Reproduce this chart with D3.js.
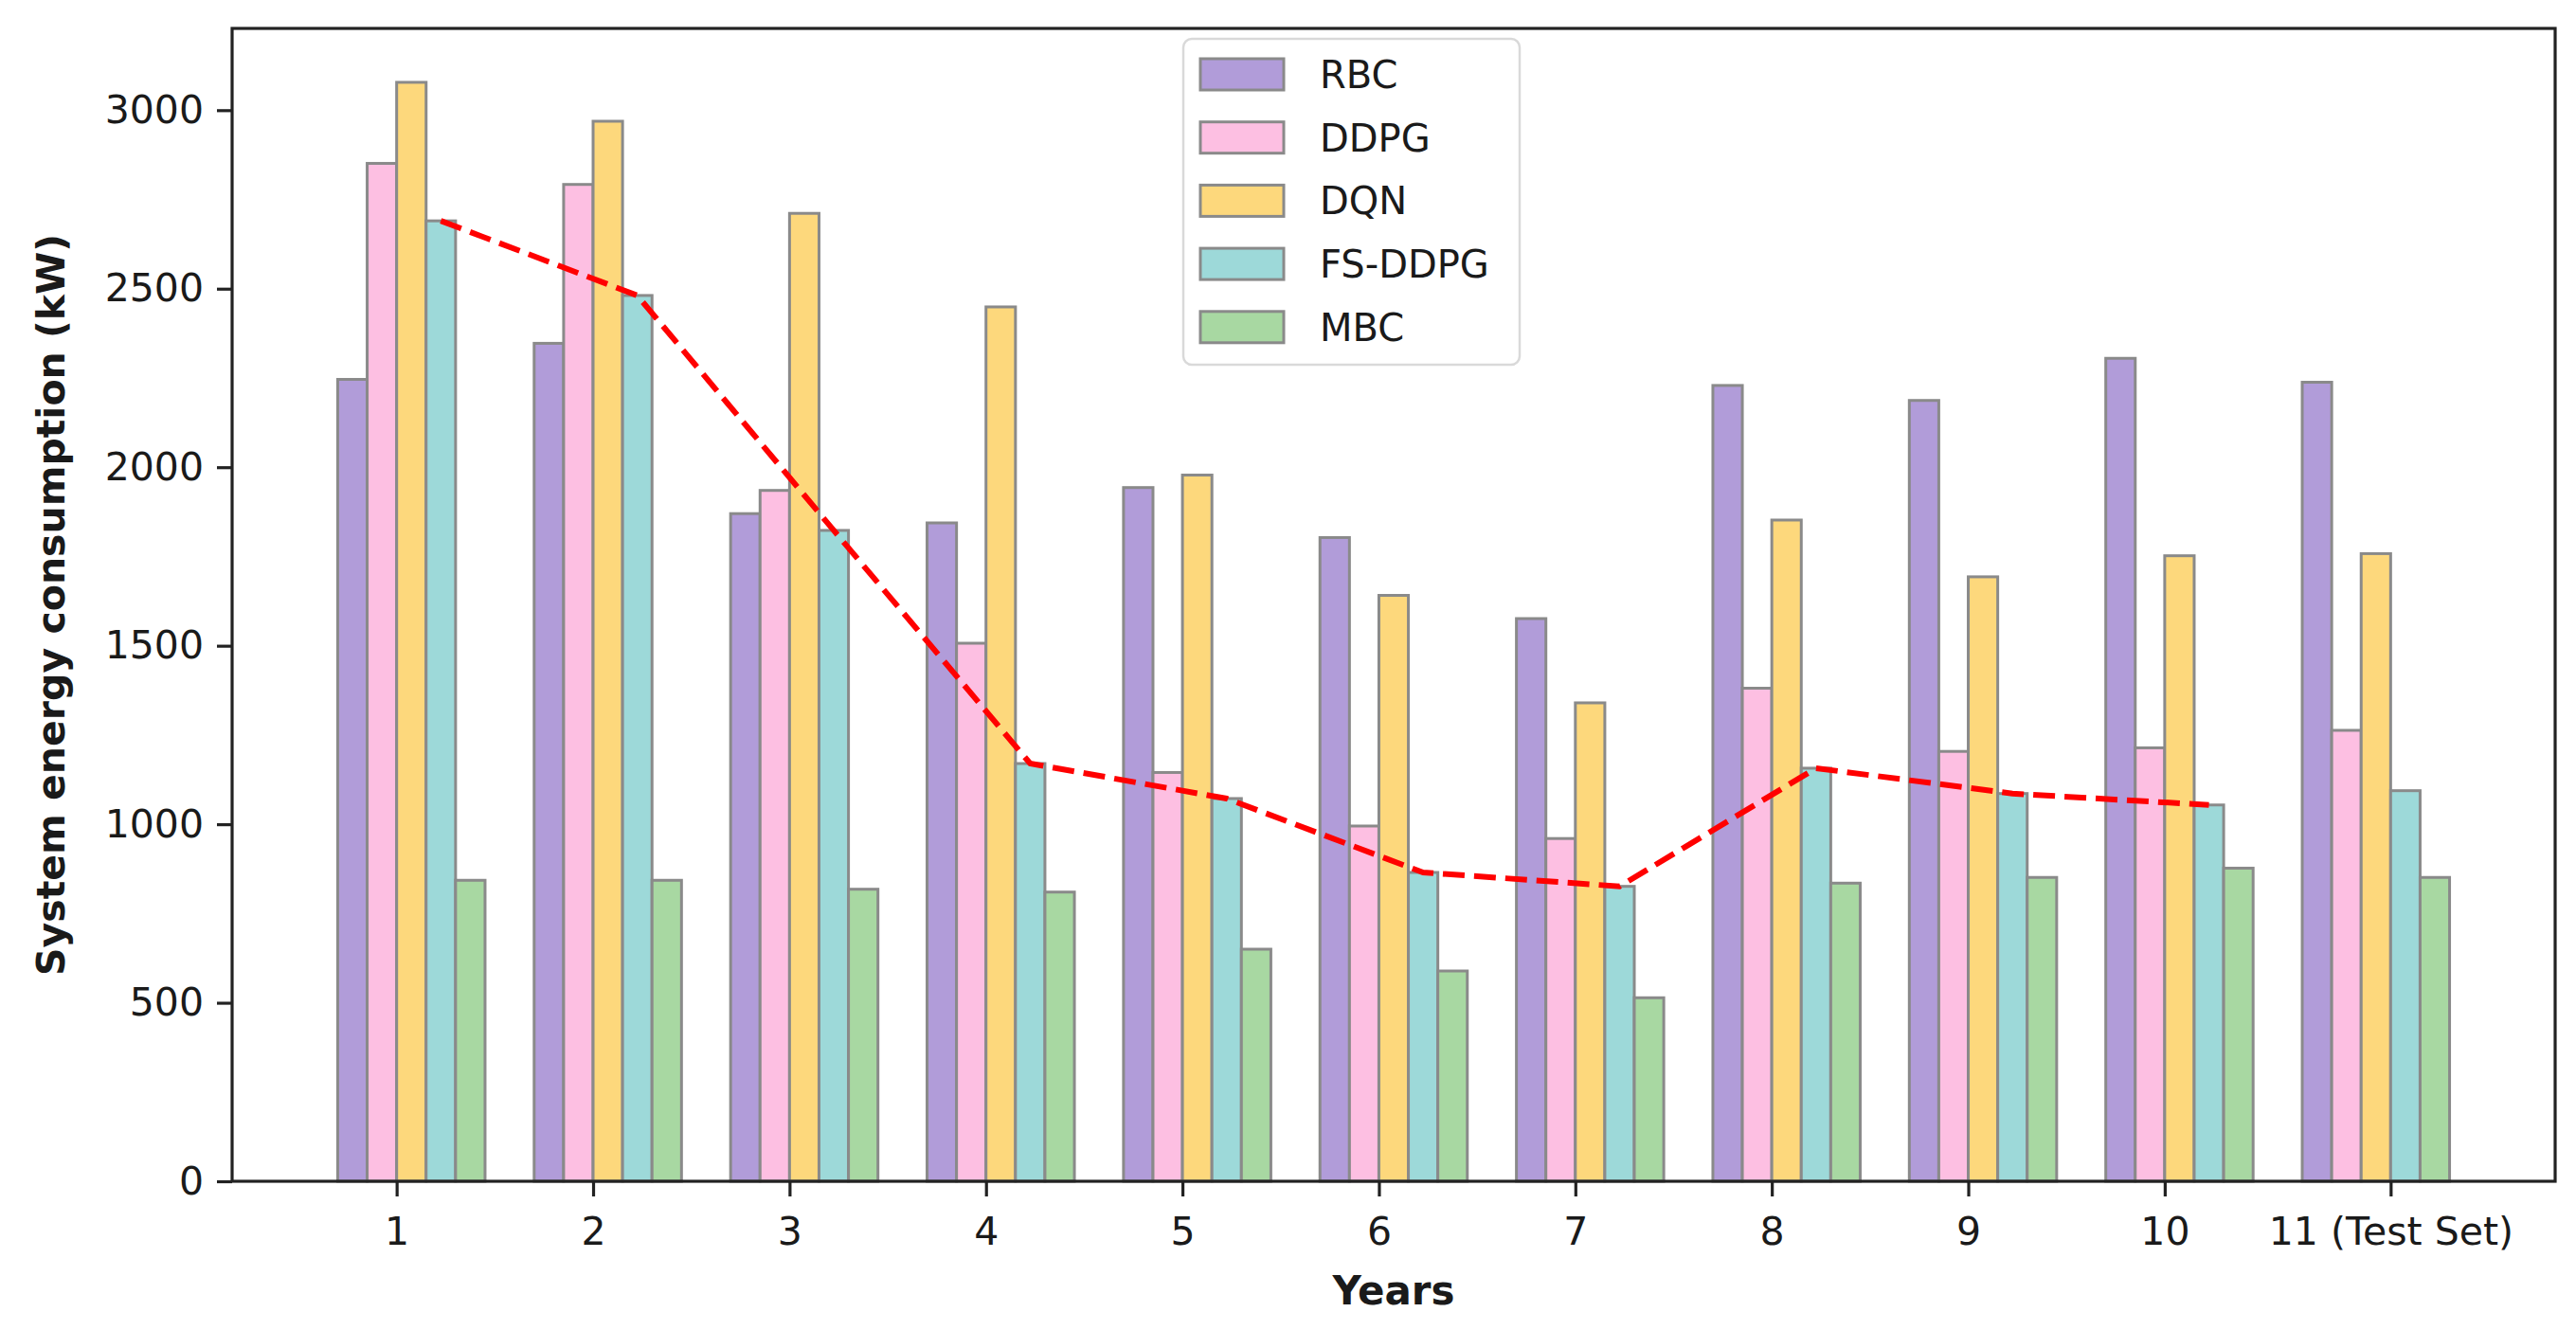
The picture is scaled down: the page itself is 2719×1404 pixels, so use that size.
<!DOCTYPE html>
<html>
<head>
<meta charset="utf-8">
<script src="https://cdn.jsdelivr.net/npm/d3@7"></script>
<style>
  html, body { margin: 0; padding: 0; background: #fff; }
  svg { display: block; }
  text { font-family: "DejaVu Sans", sans-serif; fill: #1a1a1a; }
</style>
</head>
<body>
<svg id="chart" width="2719" height="1404"></svg>
<script>
// ---- data ----
const years = ["1", "2", "3", "4", "5", "6", "7", "8", "9", "10", "11 (Test Set)"];
const seriesNames = ["RBC", "DDPG", "DQN", "FS-DDPG", "MBC"];
const rbc    = [2246, 2347, 1870, 1844, 1943, 1803, 1576, 2229, 2187, 2305, 2238];
const ddpg   = [2851, 2792, 1935, 1507, 1145,  995,  960, 1381, 1204, 1214, 1263];
const dqn    = [3078, 2969, 2711, 2449, 1978, 1641, 1340, 1852, 1693, 1752, 1758];
const fsddpg = [2690, 2481, 1823, 1170, 1072,  865,  826, 1157, 1086, 1054, 1094];
const mbc    = [ 843,  843,  818,  810,  650,  589,  514,  835,  851,  877,  851];
const yTicks = [0, 500, 1000, 1500, 2000, 2500, 3000];
const seriesColors = ["#b19cd9", "#fdbfe2", "#fdd87c", "#9dd9d9", "#a8d8a2"];
const seriesValues = [rbc, ddpg, dqn, fsddpg, mbc];
// trend line: FS-DDPG over training years (1..10)
const trendCount = 10;

// ---- layout ----
const svg = d3.select("#chart");
const L = 245, R = 2697, T = 30, B = 1247;
const barW = 0.15;
const x = d3.scaleLinear().domain([-0.8375, 10.9875]).range([L, R]);
const y = d3.scaleLinear().domain([0, 3229]).range([B, T]);

// bars
const g = svg.append("g");
seriesValues.forEach((vals, j) => {
  g.selectAll(null)
    .data(vals)
    .enter()
    .append("rect")
    .attr("x", (d, i) => x(i - 2 * barW + j * barW))
    .attr("width", x(barW) - x(0))
    .attr("y", d => y(d))
    .attr("height", d => y(0) - y(d))
    .attr("fill", seriesColors[j])
    .attr("stroke", "#8a8a8a")
    .attr("stroke-width", 3);
});

// dashed trend line through FS-DDPG bars
const trend = fsddpg.slice(0, trendCount).map((v, i) => [i - 2 * barW + 3.5 * barW, v]);
svg.append("path")
  .datum(trend)
  .attr("fill", "none")
  .attr("stroke", "#ff0000")
  .attr("stroke-width", 6)
  .attr("stroke-dasharray", "23,10")
  .attr("d", d3.line().x(d => x(d[0])).y(d => y(d[1])));

// axes
const tickPos = years.map((_, i) => i + (i === years.length - 1 ? barW : 0));
const xAxis = d3.axisBottom(x)
  .tickValues(tickPos)
  .tickFormat((d, i) => years[i])
  .tickSize(16)
  .tickPadding(14);
const yAxis = d3.axisLeft(y)
  .tickValues(yTicks)
  .tickFormat(d3.format("d"))
  .tickSize(16)
  .tickPadding(14);

const gx = svg.append("g").attr("transform", `translate(0,${B})`).call(xAxis);
const gy = svg.append("g").attr("transform", `translate(${L},0)`).call(yAxis);
[gx, gy].forEach(ax => {
  ax.select(".domain").remove();
  ax.selectAll(".tick line").attr("stroke", "#222").attr("stroke-width", 3.2);
  ax.selectAll(".tick text").style("font-size", "41px").attr("fill", "#1a1a1a");
});
gx.selectAll(".tick text").attr("dy", "0.9em");

// frame
svg.append("rect")
  .attr("x", L).attr("y", T)
  .attr("width", R - L).attr("height", B - T)
  .attr("fill", "none").attr("stroke", "#222").attr("stroke-width", 3.2);

// axis titles
svg.append("text")
  .attr("x", (L + R) / 2).attr("y", 1377)
  .attr("text-anchor", "middle")
  .style("font-size", "42px").style("font-weight", "bold")
  .text("Years");
svg.append("text")
  .attr("transform", `translate(68,${(T + B) / 2}) rotate(-90)`)
  .attr("text-anchor", "middle")
  .style("font-size", "41px").style("font-weight", "bold")
  .text("System energy consumption (kW)");

// legend
const lg = svg.append("g");
lg.append("rect")
  .attr("x", 1249).attr("y", 41).attr("width", 355).attr("height", 344)
  .attr("rx", 9).attr("fill", "#fff").attr("fill-opacity", 0.8)
  .attr("stroke", "#d9d9d9").attr("stroke-width", 2.5);
const rowH = 66.7;
seriesNames.forEach((name, j) => {
  const cy = 78.5 + j * rowH;
  lg.append("rect")
    .attr("x", 1267).attr("y", cy - 16.5).attr("width", 88).attr("height", 33)
    .attr("fill", seriesColors[j]).attr("stroke", "#8a8a8a").attr("stroke-width", 3);
  lg.append("text")
    .attr("x", 1393).attr("y", cy + 14.5)
    .style("font-size", "40px")
    .text(name);
});
</script>
</body>
</html>
